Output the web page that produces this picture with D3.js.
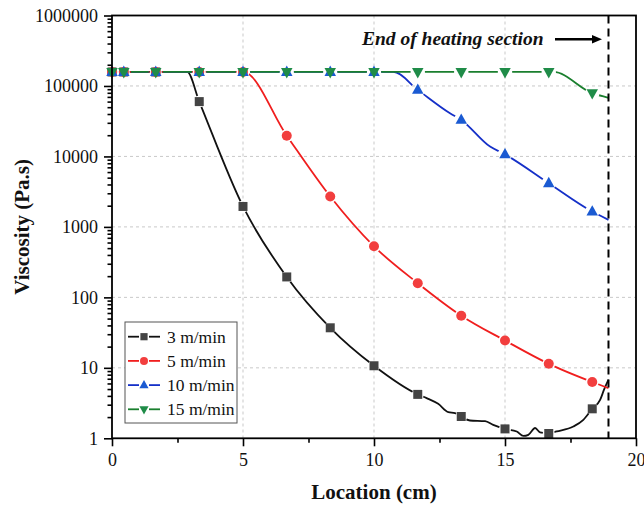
<!DOCTYPE html>
<html>
<head>
<meta charset="utf-8">
<script src="https://cdn.jsdelivr.net/npm/d3@7/dist/d3.min.js"></script>
<style>
  html, body { margin: 0; padding: 0; background: #fff; }
  svg { display: block; font-family: "Liberation Serif", "Times New Roman", serif; }
</style>
</head>
<body>
<svg id="chart" width="644" height="509"></svg>
<script>
// Marker locations along the heating section (cm)
const markerX = [0, 0.45, 1.67, 3.33, 5, 6.67, 8.33, 10, 11.67, 13.33, 15, 16.67, 18.33];

// Viscosity (Pa.s) at the marker locations, one array per line speed
const visc3  = [158000, 158000, 158000, 60000, 1950, 195, 37, 10.7, 4.2, 2.04, 1.36, 1.17, 2.62];
const visc5  = [158000, 158000, 158000, 158000, 158000, 19700, 2700, 530, 159, 55, 24.4, 11.4, 6.3];
const visc10 = [158000, 158000, 158000, 158000, 158000, 158000, 158000, 158000, 88000, 33000, 10700, 4170, 1650];
const visc15 = [158000, 158000, 158000, 158000, 158000, 158000, 158000, 158000, 158000, 158000, 158000, 158000, 79000];

// Continuous simulated profiles (location cm, viscosity Pa.s)
const traceX3  = [0, 2.87, 3.33, 5, 6.67, 8.33, 10, 11.67, 12.01, 12.45, 12.84, 13.09, 13.33, 13.66, 14.24, 14.55, 15, 15.45, 15.7, 15.89, 16.15, 16.34, 16.67, 16.97, 17.61, 17.99, 18.33, 18.63, 18.78, 18.95];
const traceV3  = [158000, 158000, 60000, 1950, 195, 37, 10.7, 4.2, 3.72, 3.08, 2.35, 2.28, 2.04, 1.79, 1.75, 1.55, 1.36, 1.25, 1.08, 1.12, 1.4, 1.21, 1.17, 1.25, 1.47, 1.83, 2.62, 3.5, 4.9, 6.8];
const traceX5  = [0, 5, 6.67, 8.33, 10, 11.67, 13.33, 15, 16.67, 18.33, 18.95];
const traceV5  = [158000, 158000, 19700, 2700, 530, 159, 55, 24.4, 11.4, 6.3, 5.15];
const traceX10 = [0, 10, 10.74, 11.67, 12.9, 13.33, 14.43, 15, 16.67, 18.33, 18.95];
const traceV10 = [158000, 158000, 158000, 88000, 41000, 33000, 13800, 10700, 4170, 1650, 1260];
const traceX15 = [0, 16.67, 16.85, 18.33, 18.95];
const traceV15 = [158000, 158000, 158000, 79000, 68000];

const seriesNames = ["3 m/min", "5 m/min", "10 m/min", "15 m/min"];

// Axis ticks
const xMajor = [0, 5, 10, 15, 20];
const xMinor = [2.5, 7.5, 12.5, 17.5];
const yMajor = [1, 10, 100, 1000, 10000, 100000, 1000000];
const heatingEnd = 18.95;

const series = [
  { name: seriesNames[0], mv: visc3,  tx: traceX3,  tv: traceV3,  line: "#111111", fill: "#444444", shape: "square" },
  { name: seriesNames[1], mv: visc5,  tx: traceX5,  tv: traceV5,  line: "#f01e1e", fill: "#f23e3e", shape: "circle" },
  { name: seriesNames[2], mv: visc10, tx: traceX10, tv: traceV10, line: "#1530c8", fill: "#1a5ad2", shape: "triUp" },
  { name: seriesNames[3], mv: visc15, tx: traceX15, tv: traceV15, line: "#1a7f2e", fill: "#1f8c48", shape: "triDown" }
];

const svg = d3.select("#chart");
const L = 112, R = 636, T = 15.5, B = 438.3;

const x = d3.scaleLinear().domain([0, 20]).range([L, R]);
const y = d3.scaleLog().domain([1, 1e6]).range([B, T]);

// Grid
const grid = svg.append("g").attr("stroke", "#c9c9c9").attr("stroke-width", 1).attr("stroke-dasharray", "3,3");
grid.selectAll("line.gx").data([5, 10, 15]).join("line")
  .attr("x1", d => x(d)).attr("x2", d => x(d)).attr("y1", T).attr("y2", B);
grid.selectAll("line.gy").data(yMajor.slice(1, -1)).join("line")
  .attr("y1", d => y(d)).attr("y2", d => y(d)).attr("x1", L).attr("x2", R);

// Marker shape generator
function markerPath(shape, s) {
  if (shape === "square") return `M${-s/2},${-s/2}h${s}v${s}h${-s}Z`;
  if (shape === "circle") return d3.symbol(d3.symbolCircle, Math.PI * (s/2) * (s/2))();
  const h = s * 0.9;
  if (shape === "triUp") return `M0,${-h*0.62}L${s/2},${h*0.38}L${-s/2},${h*0.38}Z`;
  return `M0,${h*0.62}L${s/2},${-h*0.38}L${-s/2},${-h*0.38}Z`;
}
const mSize = { square: 9, circle: 10, triUp: 11.5, triDown: 11.5 };

const defs = svg.append("defs");
const lineGen = d3.line().curve(d3.curveMonotoneX);

series.forEach((s, i) => {
  const pts = markerX.map((mx, j) => [x(mx), y(s.mv[j])]);
  // mask that opens small gaps in the line around each marker
  const mask = defs.append("mask").attr("id", "gap" + i).attr("maskUnits", "userSpaceOnUse")
    .attr("x", 0).attr("y", 0).attr("width", 644).attr("height", 509);
  mask.append("rect").attr("width", 644).attr("height", 509).attr("fill", "#fff");
  mask.selectAll("circle").data(pts).join("circle")
    .attr("cx", d => d[0]).attr("cy", d => d[1]).attr("r", mSize[s.shape] / 2 + 1.5).attr("fill", "#000");

  const g = svg.append("g");
  g.append("path")
    .attr("d", lineGen(s.tx.map((tx, j) => [x(tx), y(s.tv[j])])))
    .attr("fill", "none").attr("stroke", s.line).attr("stroke-width", 1.8)
    .attr("mask", `url(#gap${i})`);
  g.selectAll("path.m").data(pts).join("path").attr("class", "m")
    .attr("transform", d => `translate(${d[0]},${d[1]})`)
    .attr("d", markerPath(s.shape, mSize[s.shape]))
    .attr("fill", s.fill);
});

// End of heating section marker line
svg.append("line")
  .attr("x1", x(heatingEnd)).attr("x2", x(heatingEnd)).attr("y1", T).attr("y2", B)
  .attr("stroke", "#000").attr("stroke-width", 2).attr("stroke-dasharray", "8,5");

svg.append("text").attr("x", 362).attr("y", 45)
  .attr("font-size", 19.5).attr("font-weight", "bold").attr("font-style", "italic").attr("fill", "#111")
  .text("End of heating section");
svg.append("line").attr("x1", 555).attr("x2", 594).attr("y1", 39.3).attr("y2", 39.3)
  .attr("stroke", "#000").attr("stroke-width", 2.5);
svg.append("path").attr("d", "M602,39.3L592,35L592,43.6Z").attr("fill", "#000");

// Axes
const axX = svg.append("g").attr("transform", `translate(0,${B})`)
  .call(d3.axisBottom(x).tickValues(xMajor).tickSize(8).tickPadding(7).tickFormat(d3.format("d")));
const axXm = svg.append("g").attr("transform", `translate(0,${B})`)
  .call(d3.axisBottom(x).tickValues(xMinor).tickSize(4.5).tickFormat(""));
const yMinor = [];
yMajor.slice(0, -1).forEach(d => { for (let k = 2; k <= 9; k++) yMinor.push(d * k); });
const axY = svg.append("g").attr("transform", `translate(${L},0)`)
  .call(d3.axisLeft(y).tickValues(yMajor).tickSize(8).tickPadding(6).tickFormat(d3.format("d")));
const axYm = svg.append("g").attr("transform", `translate(${L},0)`)
  .call(d3.axisLeft(y).tickValues(yMinor).tickSize(4.5).tickFormat(""));

[axX, axXm, axY, axYm].forEach(a => {
  a.select(".domain").remove();
  a.selectAll(".tick line").attr("stroke", "#000").attr("stroke-width", 1.6);
  a.selectAll(".tick text").attr("font-family", "Liberation Serif").attr("font-size", 18).attr("fill", "#111");
});

// Frame
svg.append("rect").attr("x", L).attr("y", T).attr("width", R - L).attr("height", B - T)
  .attr("fill", "none").attr("stroke", "#000").attr("stroke-width", 1.8);

// Axis titles
svg.append("text").attr("x", (L + R) / 2).attr("y", 499).attr("text-anchor", "middle")
  .attr("font-size", 21).attr("font-weight", "bold").attr("fill", "#111").text("Location (cm)");
svg.append("text").attr("transform", `translate(29,${(T + B) / 2}) rotate(-90)`).attr("text-anchor", "middle")
  .attr("font-size", 21).attr("font-weight", "bold").attr("fill", "#111").text("Viscosity (Pa.s)");

// Legend
const lg = svg.append("g");
lg.append("rect").attr("x", 125).attr("y", 322).attr("width", 112).attr("height", 101)
  .attr("fill", "#fff").attr("stroke", "#555").attr("stroke-width", 1);
series.forEach((s, i) => {
  const ry = 336.7 + i * 24.2;
  lg.append("line").attr("x1", 128).attr("x2", 139).attr("y1", ry).attr("y2", ry).attr("stroke", s.line).attr("stroke-width", 1.8);
  lg.append("line").attr("x1", 149).attr("x2", 160).attr("y1", ry).attr("y2", ry).attr("stroke", s.line).attr("stroke-width", 1.8);
  lg.append("path").attr("transform", `translate(144,${ry})`).attr("d", markerPath(s.shape, mSize[s.shape] * 0.8)).attr("fill", s.fill);
  lg.append("text").attr("x", 167).attr("y", ry + 6).attr("font-size", 17.5).attr("fill", "#111").text(s.name);
});
</script>
</body>
</html>
